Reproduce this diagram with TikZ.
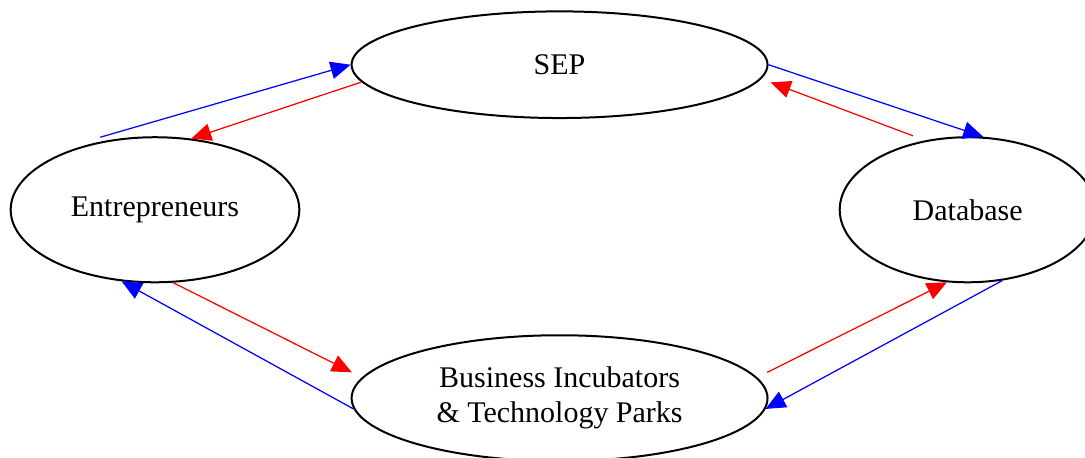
\documentclass[tikz,border=0pt]{standalone}
\usepackage{fontspec}
\setmainfont{Liberation Serif}
\usetikzlibrary{arrows.meta,shapes.geometric}

\begin{document}
\begin{tikzpicture}[>={Triangle[length=8pt,width=7pt]},
  bubble/.style={draw, ellipse, line width=0.8pt, inner sep=0pt, align=center,
    font=\fontsize{12}{14}\selectfont},
  blueflow/.style={->, blue, line width=0.5pt},
  redflow/.style={->, red, line width=0.5pt}]
  \useasboundingbox (0,0) rectangle (15.26,-6.43);
  \node[bubble, minimum width=5.85cm, minimum height=1.5cm] (SEP) at (7.87,-0.91) {SEP};
  \node[bubble, minimum width=4.06cm, minimum height=2.04cm] (E) at (2.18,-2.95) {Entrepreneurs};
  \node[bubble, minimum width=3.6cm, minimum height=2.04cm] (DB) at (13.61,-2.95) {Database};
  \node[bubble, minimum width=5.85cm, minimum height=1.77cm] (BI) at (7.87,-5.6)
    {Business Incubators\\ \& Technology Parks};
  % loose ends above the side ellipses
  \coordinate (eTop) at (1.41,-1.93);
  \coordinate (dbTop) at (12.84,-1.91);
  % SEP <-> Entrepreneurs
  \draw[blueflow] (eTop) -- (SEP.west);
  \draw[redflow] (SEP.185) -- (E.63);
  % SEP <-> Database
  \draw[blueflow] (SEP.east) -- (DB.78);
  \draw[redflow, shorten >=4pt] (dbTop) -- (SEP.-4);
  % Entrepreneurs <-> incubators
  \draw[redflow, shorten >=4.5pt] (E.-76) -- (BI.174);
  \draw[blueflow] (BI.183) -- (E.-115);
  % incubators <-> Database
  \draw[redflow, shorten <=4.5pt] (BI.6) -- (DB.-106);
  \draw[blueflow] (DB.-64) -- (BI.-3);
\end{tikzpicture}
\end{document}
